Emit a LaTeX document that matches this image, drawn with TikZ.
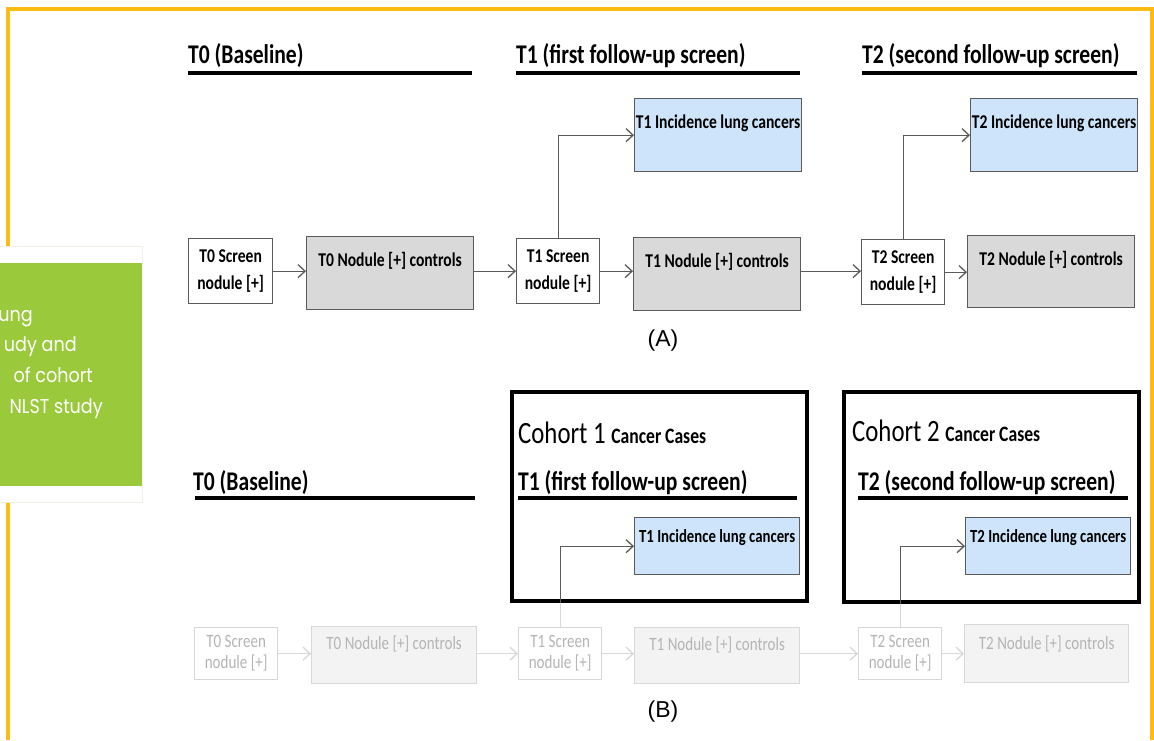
\documentclass[tikz,border=0pt]{standalone}
\usepackage{fontspec}
\newfontfamily\calfnt[FakeStretch=0.8]{Carlito}
\newfontfamily\arialf{Liberation Sans}
\newfontfamily\geo[FakeStretch=0.88]{Poppins}
\usetikzlibrary{arrows.meta}
\definecolor{frameor}{RGB}{253,188,20}
\definecolor{greenbx}{RGB}{155,201,60}
\definecolor{bluebx}{RGB}{206,228,250}
\definecolor{graybx}{RGB}{217,217,217}
\definecolor{edge}{RGB}{90,90,90}
\definecolor{fadeedge}{RGB}{216,216,216}
\definecolor{fadefill}{RGB}{243,243,243}
\definecolor{fadetext}{RGB}{180,180,180}
\definecolor{panelline}{RGB}{240,240,232}
\begin{document}
\begin{tikzpicture}[x=1pt,y=-1pt,
  box/.style={draw=edge, line width=1.3pt, inner sep=0pt, anchor=north west, align=center,
    font=\calfnt\bfseries\fontsize{19.5}{27}\selectfont},
  scr/.style={box, fill=white, minimum width=84pt, minimum height=65pt},
  ctrl/.style={box, fill=graybx, minimum width=167pt, text height=30pt, text depth=43pt},
  inc/.style={box, fill=bluebx, minimum width=167pt, text height=30pt, text depth=43pt},
  incb/.style={box, fill=bluebx, minimum width=165pt, text height=25pt, text depth=32pt,
    font=\calfnt\bfseries\fontsize{18.5}{20}\selectfont},
  fade/.style={draw=fadeedge, line width=1.3pt, inner sep=0pt, anchor=north west, align=center,
    text=fadetext, font=\calfnt\fontsize{18.8}{21}\selectfont},
  fscr/.style={fade, fill=white, minimum width=83pt, minimum height=52pt},
  fctrl/.style={fade, fill=fadefill, minimum width=165pt, text height=23pt, text depth=34pt},
  hdr/.style={anchor=base west, inner sep=0pt, font=\calfnt\bfseries\fontsize{27}{30}\selectfont},
  uline/.style={line width=4.5pt, black},
  arr/.style={draw=edge, line width=1.3pt, -{Straight Barb[length=7pt,width=13pt]}},
  farr/.style={draw=fadeedge, line width=1.3pt, -{Straight Barb[length=7pt,width=13pt]}},
  cohortbox/.style={draw=black, line width=4pt, inner sep=0pt, anchor=north west},
  cohorttxt/.style={anchor=base west, inner sep=0pt, font=\calfnt\fontsize{31}{33}\selectfont},
  gtext/.style={anchor=base east, inner sep=0pt, text=white, font=\geo\fontsize{20}{22}\selectfont},
  lab/.style={inner sep=0pt, font=\arialf\fontsize{23}{26}\selectfont}
]
\useasboundingbox (0,0) rectangle (1154,740);
\fill[white] (0,0) rectangle (1154,740);

% frame
\draw[frameor, line width=4pt] (7.5,740) -- (7.5,8.5) -- (1152,8.5) -- (1152,740);
% side panel
\filldraw[fill=white, draw=panelline, line width=0.8pt] (-2,246) rectangle (142,502);
\fill[greenbx] (0,263) rectangle (142,486);
\node[gtext] (g1) at (33,321) {ung};
\node[gtext] (g2) at (77,351) {udy and};
\node[gtext] (g3) at (93,382) {of cohort};
\node[gtext] (g4) at (103,413) {NLST study};

% ---------- (A) ----------
\node[hdr] (hA0) at (188,63) {T0 (Baseline)};
\node[hdr] (hA1) at (516,63) {T1 (first follow-up screen)};
\node[hdr] (hA2) at (862,63) {T2 (second follow-up screen)};
\draw[uline] (188,73) -- (472,73);
\draw[uline] (516,73) -- (800,73);
\draw[uline] (862,73) -- (1137,73);

\node[scr] (t0s) at (188,238) {T0 Screen\\nodule [+]};
\node[ctrl] (t0c) at (306,236) {T0 Nodule [+] controls};
\node[scr, minimum width=83pt] (t1s) at (516,238) {T1 Screen\\nodule [+]};
\node[ctrl] (t1c) at (633,237) {T1 Nodule [+] controls};
\node[inc] (t1i) at (634,98) {T1 Incidence lung cancers};
\node[scr, minimum width=83pt] (t2s) at (861,239) {T2 Screen\\nodule [+]};
\node[ctrl, text depth=42pt] (t2c) at (967,235) {T2 Nodule [+] controls};
\node[inc] (t2i) at (970,98) {T2 Incidence lung cancers};

\draw[arr] (t0s.east) -- (t0s.east -| t0c.west);
\draw[arr] (t0c.east |- t0s.east) -- (t0s.east -| t1s.west);
\draw[arr] (t1s.east) -- (t1s.east -| t1c.west);
\draw[arr] (t1c.east |- t1s.east) -- (t1s.east -| t2s.west);
\draw[arr] (t2s.east) -- (t2s.east -| t2c.west);
\draw[arr] (t1s.north) |- (t1i.west);
\draw[arr] (t2s.north) |- (t2i.west);

\node[lab] (labA) at (663,341) {(A)};

% ---------- (B) ----------
\node[cohortbox, minimum width=295pt, minimum height=209pt] (c1) at (510,390) {};
\node[cohortbox, minimum width=295pt, minimum height=210pt] (c2) at (842,390) {};
\node[cohorttxt] (c1t) at (518,443)
  {Cohort 1 \bfseries\fontsize{22}{24}\selectfont Cancer Cases};
\node[cohorttxt] (c2t) at (852,441)
  {Cohort 2 \bfseries\fontsize{22}{24}\selectfont Cancer Cases};

\node[hdr] (hB0) at (193,490) {T0 (Baseline)};
\node[hdr] (hB1) at (518,490) {T1 (first follow-up screen)};
\node[hdr] (hB2) at (858,490) {T2 (second follow-up screen)};
\draw[uline] (195,498) -- (475,498);
\draw[uline] (518,498) -- (797,498);
\draw[uline] (858,498) -- (1128,498);

\node[incb] (t1iB) at (634,517) {T1 Incidence lung cancers};
\node[incb] (t2iB) at (965,517) {T2 Incidence lung cancers};

\node[fscr] (f0s) at (194,627) {T0 Screen\\nodule [+]};
\node[fctrl] (f0c) at (311,626) {T0 Nodule [+] controls};
\node[fscr] (f1s) at (518,627) {T1 Screen\\nodule [+]};
\node[fctrl, text depth=33pt] (f1c) at (634,627) {T1 Nodule [+] controls};
\node[fscr] (f2s) at (858,627) {T2 Screen\\nodule [+]};
\node[fctrl, minimum width=164pt, text height=25pt, text depth=33pt] (f2c) at (964,624) {T2 Nodule [+] controls};

\draw[farr] (f0s.east) -- (f0s.east -| f0c.west);
\draw[farr] (f0c.east |- f0s.east) -- (f0s.east -| f1s.west);
\draw[farr] (f1s.east) -- (f1s.east -| f1c.west);
\draw[farr] (f1c.east |- f1s.east) -- (f1s.east -| f2s.west);
\draw[farr] (f2s.east) -- (f2s.east -| f2c.west);

\coordinate (x1) at (f1s.north |- c1.south);
\coordinate (x2) at (f2s.north |- c2.south);
\draw[fadeedge, line width=1.3pt] (f1s.north) -- (x1);
\draw[fadeedge, line width=1.3pt] (f2s.north) -- (x2);
\draw[arr] (x1) |- (t1iB.west);
\draw[arr] (x2) |- (t2iB.west);

\node[lab] (labB) at (663,712) {(B)};
\end{tikzpicture}
\end{document}
